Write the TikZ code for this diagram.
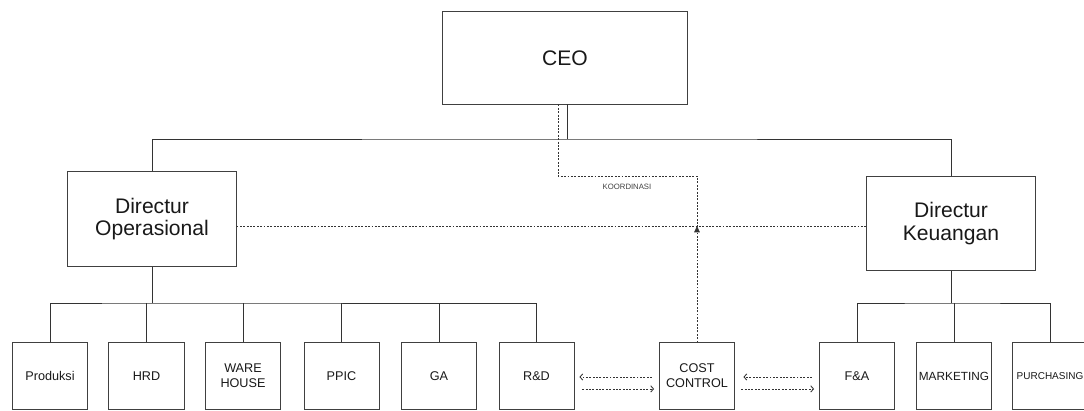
\documentclass[tikz,border=0pt]{standalone}
\usepackage{fontspec}
\setmainfont{Liberation Sans}
\usetikzlibrary{arrows.meta,positioning,calc}

\begin{document}
\begin{tikzpicture}[x=0.025cm,y=-0.025cm,line width=0.6pt,color=black!80,
  box/.style={draw=black!75,line width=0.7pt,rectangle,inner sep=1pt,align=center,text=black!90},
  big/.style={box,minimum width=6.1cm,minimum height=2.3cm,font=\fontsize{15}{16}\selectfont},
  dir/.style={box,minimum width=4.2cm,minimum height=2.35cm,font=\fontsize{15}{16}\selectfont},
  unit/.style={box,minimum width=1.875cm,minimum height=1.65cm,font=\fontsize{9}{10.8}\selectfont},
  dashline/.style={dash pattern=on 1.4pt off 1pt},
  barb/.style={dashline,-{Straight Barb[length=2pt,width=4.5pt]}}]
\useasboundingbox (0,0) rectangle (1084,411);
\node[big] (ceo) at (565,58) {CEO};
\node[dir] (dop) at (152,219) {Directur\\Operasional};
\node[dir] (dkeu) at (951,223.5) {Directur\\Keuangan};
\node[unit] (prod) at (50,376) {Produksi};
\node[unit] (hrd) at (146.5,376) {HRD};
\node[unit] (wh) at (243,376) {WARE\\HOUSE};
\node[unit] (ppic) at (341.5,376) {PPIC};
\node[unit] (ga) at (439,376) {GA};
\node[unit] (rd) at (536.5,376) {R\&D};
\node[unit] (cc) at (697,376) {COST\\CONTROL};
\node[unit] (fa) at (857,376) {F\&A};
\node[unit,font=\fontsize{8.4}{10}\selectfont] (mkt) at (954,376) {MARKETING};
\node[unit,font=\fontsize{7.1}{9}\selectfont] (pur) at (1050,376) {PURCHASING};
\node[font=\fontsize{5.5}{6}\selectfont,text=black!75] (koor) at (627,187) {KOORDINASI};
% garis komando
\coordinate (bus) at (567,139);
\coordinate (opbus) at (dop.south |- 0,303);
\coordinate (keubus) at (dkeu.south |- 0,303);
\draw (ceo.south -| bus) -- (bus);
\draw (dop.north) |- (bus) -| (dkeu.north);
\draw (dop.south) -- (opbus);
\draw (prod.north) |- (opbus) -| (rd.north);
\foreach \u in {hrd,wh,ppic,ga}
  \draw (\u.north) -- (\u.north |- opbus);
\draw (dkeu.south) -- (keubus);
\draw (fa.north) |- (keubus) -| (pur.north);
\draw (mkt.north) -- (mkt.north |- keubus);
% garis koordinasi
\coordinate (kd) at (558,176);
\coordinate (jn) at ([yshift=-5pt]dop.east -| cc.north);
\draw[dashline] (ceo.south -| kd) -- (kd) -| (jn);
\draw[dashline] ([yshift=-5pt]dop.east) -- (jn) -- ([yshift=-5pt]dop.east -| dkeu.west);
\draw[dashline,-{Triangle[length=4.5pt,width=4pt]}] (cc.north) -- (jn);
\draw[barb,shorten <=5pt,shorten >=3.5pt] ([yshift=-0.7pt]cc.west) -- ([yshift=-0.7pt]rd.east);
\draw[barb,shorten <=5.5pt,shorten >=3.5pt] ([yshift=-9.2pt]rd.east) -- ([yshift=-9.2pt]cc.west);
\draw[barb,shorten <=5pt,shorten >=6pt] ([yshift=-0.7pt]fa.west) -- ([yshift=-0.7pt]cc.east);
\draw[barb,shorten <=4.5pt,shorten >=3.5pt] ([yshift=-9.2pt]cc.east) -- ([yshift=-9.2pt]fa.west);
\end{tikzpicture}
\end{document}
